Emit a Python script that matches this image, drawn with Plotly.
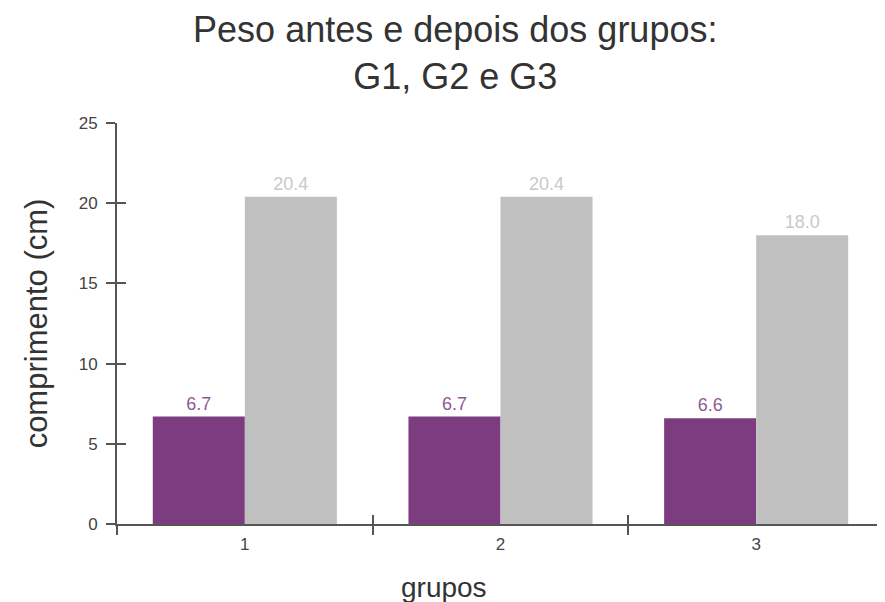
import plotly.graph_objects as go

grupos = ["1", "2", "3"]
antes = [6.7, 6.7, 6.6]
depois = [20.4, 20.4, 18.0]
y_ticks = [0, 5, 10, 15, 20, 25]

titulo = "Peso antes e depois dos grupos:<br>G1, G2 e G3"
x_titulo = "grupos"
y_titulo = "comprimento (cm)"

cor_antes = "#7D3C7F"
cor_depois = "#C0C0C0"
cor_txt_antes = "#8E5A94"
cor_txt_depois = "#C9C9C9"
FONT = "Liberation Sans, Arial, sans-serif"

fig = go.Figure()
fig.add_trace(go.Bar(
    x=grupos, y=antes, name="antes", marker=dict(color=cor_antes, line=dict(width=0)),
    text=[f"{v:.1f}" for v in antes], textposition="outside",
    textfont=dict(color=cor_txt_antes, size=18, family=FONT), cliponaxis=False,
))
fig.add_trace(go.Bar(
    x=grupos, y=depois, name="depois", marker=dict(color=cor_depois, line=dict(width=0)),
    text=[f"{v:.1f}" for v in depois], textposition="outside",
    textfont=dict(color=cor_txt_depois, size=18, family=FONT), cliponaxis=False,
))
# invisible helper trace for inner half of crossing ticks
fig.add_trace(go.Scatter(x=grupos, y=[None, None, None], xaxis="x2", yaxis="y2",
                         showlegend=False, hoverinfo="skip", mode="markers"))

axis_col = "#555555"
fig.update_layout(
    width=877, height=594,
    paper_bgcolor="white", plot_bgcolor="white",
    margin=dict(l=109, r=1, t=115, b=78, autoexpand=False),
    barmode="group", bargap=0.28, bargroupgap=0,
    showlegend=False,
    font=dict(family=FONT, color="#444444"),
    title=dict(text=titulo, x=0.51, xanchor="center", y=0.942, yanchor="top",
               font=dict(size=36, color="#333333", family=FONT)),
    xaxis=dict(type="category", categoryarray=grupos, range=[-0.5, 2.5],
               showline=True, linecolor=axis_col, linewidth=2,
               ticks="outside", tickson="boundaries", ticklen=9, tickwidth=2, tickcolor=axis_col,
               ticklabelstandoff=4,
               tickfont=dict(size=17, color="#444444"), showgrid=False, zeroline=False),
    yaxis=dict(range=[0, 25], tickvals=y_ticks, showline=True, linecolor=axis_col, linewidth=2,
               ticks="outside", ticklen=9, tickwidth=2, tickcolor=axis_col,
               ticklabelstandoff=5,
               tickfont=dict(size=17, color="#444444"), showgrid=False, zeroline=False,
               title=dict(text=y_titulo, font=dict(size=31, color="#333333"), standoff=22)),
    xaxis2=dict(type="category", categoryarray=grupos, range=[-0.5, 2.5], overlaying="x",
                anchor="y2", showline=False, ticks="inside", tickson="boundaries", ticklen=9,
                tickwidth=2, tickcolor=axis_col, showticklabels=False, showgrid=False, zeroline=False),
    yaxis2=dict(range=[0, 25], tickvals=y_ticks, overlaying="y", anchor="x2", side="left",
                showline=False, ticks="inside", ticklen=9, tickwidth=2, tickcolor=axis_col,
                showticklabels=False, showgrid=False, zeroline=False),
    annotations=[dict(text=x_titulo, xref="paper", yref="paper", x=0.426, y=-0.115,
                      xanchor="center", yanchor="top", showarrow=False,
                      font=dict(size=28, color="#333333", family=FONT))],
)

fig.write_html("out.html")
